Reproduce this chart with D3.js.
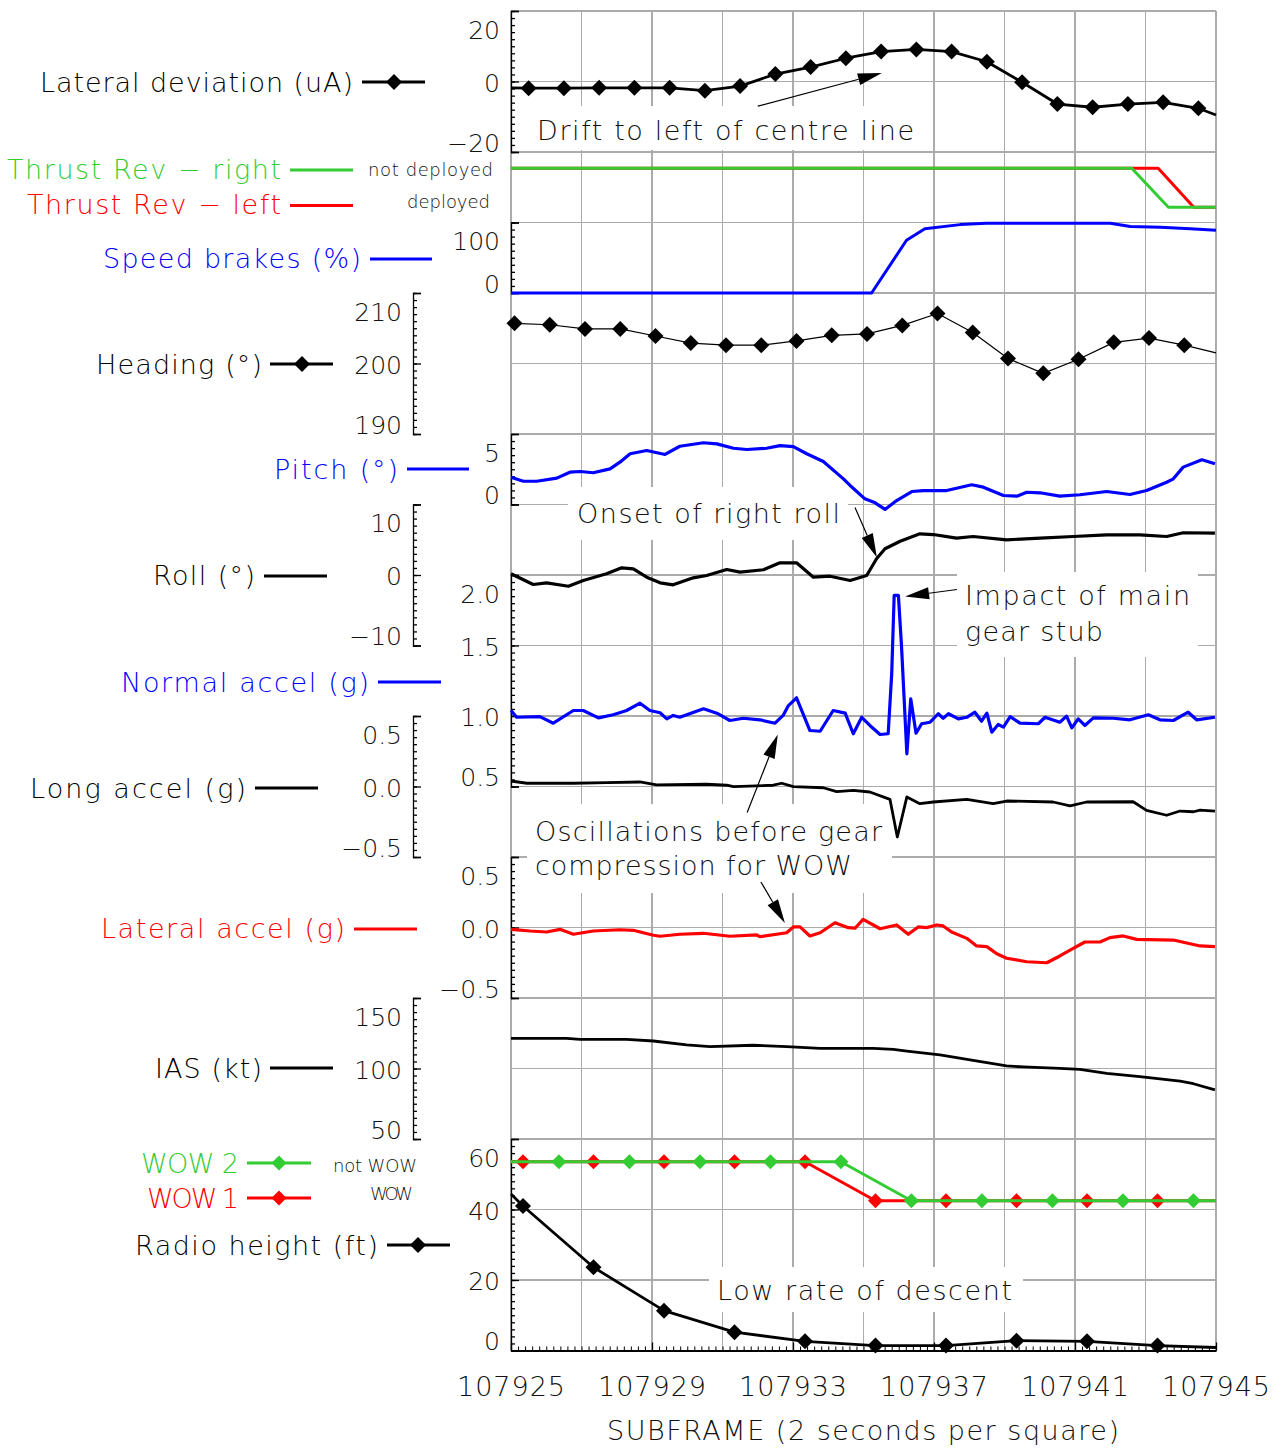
<!DOCTYPE html>
<html><head><meta charset="utf-8">
<script src="https://cdn.jsdelivr.net/npm/d3@7"></script>
<style>
body{margin:0;background:#fff}
text{font-family:"DejaVu Sans","Liberation Sans",sans-serif;font-weight:200;fill:#111}
</style></head>
<body><svg id="c" width="1285" height="1450"></svg>
<script>
// ---------------- DATA ----------------
const SF0 = 107925, SF1 = 107945;
const xTickLabels = [107925, 107929, 107933, 107937, 107941, 107945];

// Lateral deviation (uA): markers once per subframe
const latDevMarks = [[107925.5,-1.9],[107926.5,-1.9],[107927.5,-1.8],[107928.5,-1.8],[107929.5,-1.8],[107930.5,-2.6],[107931.5,-1.3],[107932.5,2.1],[107933.5,4.1],[107934.5,6.6],[107935.5,8.5],[107936.5,9.1],[107937.5,8.5],[107938.5,5.6],[107939.5,-0.2],[107940.5,-6.4],[107941.5,-7.3],[107942.5,-6.4],[107943.5,-5.9],[107944.5,-7.6]];
const latDevEnds = [[107925,-1.8],[107945,-9.5]];

// Thrust reversers: 1 = not deployed, 0 = deployed
const thrustRight = [[107925,1],[107942.61,1],[107943.65,0],[107945,0]];
const thrustLeft  = [[107925,1],[107943.36,1],[107944.37,0],[107945,0]];

// Speed brakes (%)
const speedBrakes = [[107925,0],[107935.23,0],[107936.22,74.8],[107936.74,91.0],[107937.74,97.0],[107938.49,99.0],[107942.0,99.0],[107942.57,94.2],[107943.42,93.2],[107944.27,91.0],[107945,89.0]];

// Heading (deg)
const headingMarks = [[107925.1,205.7],[107926.1,205.5],[107927.1,204.9],[107928.1,204.9],[107929.1,203.9],[107930.1,202.9],[107931.1,202.6],[107932.1,202.6],[107933.1,203.2],[107934.1,204.0],[107935.1,204.2],[107936.1,205.4],[107937.1,207.1],[107938.1,204.4],[107939.1,200.7],[107940.1,198.6],[107941.1,200.6],[107942.1,203.0],[107943.1,203.6],[107944.1,202.6]];
const headingEnd = [107945,201.5];

// Pitch (deg): [seconds after SF0, value]
const pitch = [[0,1.94],[0.35,1.65],[0.73,1.65],[1.30,1.87],[1.67,2.29],[1.96,2.34],[2.33,2.25],[2.81,2.53],[3.09,3.00],[3.38,3.60],[3.85,3.83],[4.37,3.55],[4.79,4.13],[5.46,4.38],[5.84,4.30],[6.31,3.99],[6.69,3.90],[7.25,3.99],[7.63,4.18],[8.01,4.11],[8.39,3.60],[8.86,3.05],[9.43,1.82],[9.62,1.35],[10.04,0.40],[10.33,0.12],[10.61,-0.35],[10.94,0.28],[11.37,0.92],[11.70,0.99],[12.36,0.99],[13.07,1.40],[13.40,1.23],[13.97,0.64],[14.35,0.59],[14.63,0.87],[15.01,0.83],[15.57,0.59],[16.14,0.69],[16.90,0.92],[17.56,0.71],[18.03,0.99],[18.60,1.58],[18.79,1.82],[19.07,2.65],[19.60,3.17],[19.97,2.89]];

// Roll (deg)
const roll = [[0,0.17],[0.63,-1.35],[1.01,-1.11],[1.63,-1.59],[2.05,-0.78],[2.71,0.17],[3.14,1.02],[3.47,0.88],[3.85,-0.31],[4.23,-1.11],[4.60,-1.39],[5.17,-0.40],[5.55,-0.07],[6.12,0.78],[6.50,0.40],[7.16,0.74],[7.63,1.73],[8.10,1.73],[8.58,-0.31],[9.05,-0.17],[9.62,-0.78],[10.09,-0.07],[10.37,2.30],[10.61,3.72],[11.04,4.79],[11.60,5.84],[11.98,5.74],[12.64,5.22],[13.11,5.46],[14.06,4.99],[15.01,5.22],[15.95,5.46],[16.90,5.70],[17.84,5.70],[18.60,5.46],[19.07,5.99],[19.97,5.93]];

// Normal accel (g)
const normalAccel = [[0,1.039],[0.16,0.991],[0.82,0.996],[1.20,0.949],[1.77,1.039],[2.05,1.039],[2.48,0.987],[2.90,1.009],[3.28,1.039],[3.66,1.091],[3.94,1.039],[4.23,1.023],[4.42,0.980],[4.60,1.004],[4.79,0.991],[5.46,1.051],[5.84,1.020],[6.21,0.968],[6.59,0.984],[7.06,0.973],[7.49,0.949],[7.72,1.004],[7.87,1.074],[8.10,1.129],[8.48,0.897],[8.77,0.892],[9.14,1.039],[9.48,1.020],[9.71,0.874],[9.95,0.991],[10.18,0.933],[10.47,0.869],[10.70,0.874],[10.80,1.299],[10.87,1.855],[10.99,1.855],[11.08,1.488],[11.23,0.732],[11.34,1.122],[11.49,0.878],[11.65,0.945],[11.89,0.956],[12.12,1.016],[12.26,0.984],[12.41,1.016],[12.69,0.980],[12.93,0.991],[13.16,1.027],[13.35,0.963],[13.50,1.020],[13.64,0.885],[13.82,0.940],[13.97,0.921],[14.16,0.996],[14.44,0.949],[14.96,0.945],[15.15,0.991],[15.57,0.956],[15.76,0.999],[15.91,0.916],[16.09,0.980],[16.28,0.933],[16.52,0.987],[17.09,0.984],[17.56,0.973],[18.08,1.009],[18.41,0.973],[18.79,0.968],[19.21,1.027],[19.45,0.973],[19.97,0.991]];

// Longitudinal accel (g)
const longAccel = [[0,0.039],[0.45,0.023],[1.77,0.023],[2.71,0.027],[3.66,0.032],[4.13,0.011],[5.55,0.016],[6.12,0.009],[6.31,-0.001],[7.44,0.009],[7.68,0.023],[8.01,-0.001],[8.86,-0.009],[9.24,-0.037],[9.71,-0.027],[10.18,-0.039],[10.75,-0.091],[10.96,-0.358],[11.23,-0.074],[11.60,-0.122],[11.98,-0.110],[12.93,-0.091],[13.68,-0.122],[14.06,-0.103],[15.38,-0.110],[15.86,-0.138],[16.33,-0.110],[17.65,-0.108],[18.03,-0.169],[18.60,-0.204],[18.98,-0.174],[19.36,-0.179],[19.55,-0.167],[19.97,-0.174]];

// Lateral accel (g)
const latAccel = [[0,-0.013],[0.54,-0.025],[1.01,-0.032],[1.39,-0.013],[1.77,-0.048],[2.33,-0.025],[3.09,-0.016],[3.47,-0.020],[4.04,-0.055],[4.23,-0.062],[4.79,-0.048],[5.46,-0.041],[6.21,-0.062],[6.97,-0.053],[7.06,-0.065],[7.82,-0.037],[8.01,0.004],[8.20,0.004],[8.48,-0.060],[8.77,-0.037],[9.19,0.034],[9.57,-0.001],[9.76,-0.005],[9.99,0.058],[10.47,-0.009],[10.94,0.018],[11.27,-0.048],[11.55,0.004],[11.79,-0.001],[12.08,0.018],[12.26,0.011],[12.50,-0.032],[12.93,-0.077],[13.21,-0.131],[13.50,-0.136],[13.78,-0.186],[14.06,-0.218],[14.63,-0.243],[15.20,-0.250],[15.57,-0.202],[15.95,-0.148],[16.28,-0.103],[16.71,-0.103],[16.99,-0.072],[17.37,-0.060],[17.75,-0.084],[18.79,-0.089],[19.55,-0.131],[19.97,-0.136]];

// IAS (kt)
const ias = [[0,121.4],[1.58,121.4],[1.96,120.7],[3.28,120.7],[4.04,119.5],[4.98,116.7],[5.65,115.5],[6.87,116.5],[7.82,115.5],[8.77,114.3],[10.28,114.3],[10.85,113.6],[11.23,112.4],[12.17,109.6],[13.11,105.8],[14.06,101.8],[14.53,101.1],[15.57,100.1],[16.14,99.4],[16.90,96.6],[17.84,94.2],[18.98,91.1],[19.36,89.2],[19.97,84.8]];

// Radio height (ft)
const radioMarks = [[107925.34,41.0],[107927.34,23.6],[107929.34,11.3],[107931.34,5.2],[107933.34,2.6],[107935.34,1.4],[107937.34,1.4],[107939.34,2.8],[107941.34,2.6],[107943.34,1.4]];
const radioEnds = [[107925,44.4],[107945,0.85]];

// Weight on wheels: 1 = not WOW, 0 = WOW
const wow1Marks = [[107925.34,1],[107927.34,1],[107929.34,1],[107931.34,1],[107933.34,1],[107935.34,0],[107937.34,0],[107939.34,0],[107941.34,0],[107943.34,0]];
const wow2Marks = [[107926.36,1],[107928.36,1],[107930.36,1],[107932.36,1],[107934.36,1],[107936.36,0],[107938.36,0],[107940.36,0],[107942.36,0],[107944.36,0]];
const wowEnds = [[107925,1],[107945,0]];

// ---------------- LAYOUT ----------------
const GREEN = "#33cc33", RED = "#ff0000", BLUE = "#0000ff", BLACK = "#000";
const L = {left:511, right:1216, top:11, sq:70.5, rows:19};
const rowY = j => L.top + j*L.sq;
const svg = d3.select("#c");
const x = d3.scaleLinear().domain([SF0, SF1]).range([L.left, L.right]);

const panels = {
  latDev:  {d:[-20,20],   r:[2,0],  ax:511, ticks:[-20,0,20],          minor:2,    fmt:"d"},
  speed:   {d:[0,100],    r:[4,3],  ax:511, ticks:[0,100],             minor:10,   fmt:"d"},
  heading: {d:[190,210],  r:[6,4],  ax:413, ticks:[190,200,210],       minor:1,    fmt:"d"},
  pitch:   {d:[0,5],      r:[7,6],  ax:511, ticks:[0,5],               minor:0.5,  fmt:"d"},
  roll:    {d:[-10,10],   r:[9,7],  ax:413, ticks:[-10,0,10],          minor:1,    fmt:"d"},
  nacc:    {d:[0.5,2.0],  r:[11,8], ax:511, ticks:[0.5,1.0,1.5,2.0],   minor:0.05, fmt:".1f"},
  lacc:    {d:[-0.5,0.5], r:[12,10],ax:413, ticks:[-0.5,0,0.5],        minor:0.05, fmt:".1f"},
  latacc:  {d:[-0.5,0.5], r:[14,12],ax:511, ticks:[-0.5,0,0.5],        minor:0.05, fmt:".1f"},
  ias:     {d:[50,150],   r:[16,14],ax:413, ticks:[50,100,150],        minor:5,    fmt:"d"},
  rh:      {d:[0,60],     r:[19,16],ax:511, ticks:[0,20,40,60],        minor:2,    fmt:"d"}
};
for (const k in panels) {
  const p = panels[k];
  p.y = d3.scaleLinear().domain(p.d).range([rowY(p.r[0]), rowY(p.r[1])]);
}
const yThrust = d3.scaleLinear().domain([0,1]).range([rowY(2)+55.3, rowY(2)+16.3]);
const yWow = d3.scaleLinear().domain([0,1]).range([rowY(16)+61.7, rowY(16)+22.7]);

// ---------------- GRID ----------------
const grid = svg.append("g").attr("stroke","#ababab").attr("stroke-width",1.2).attr("shape-rendering","crispEdges");
grid.selectAll("line.v").data(d3.range(SF0, SF1+1, 2)).join("line")
  .attr("x1",d=>x(d)).attr("x2",d=>x(d)).attr("y1",rowY(0)).attr("y2",rowY(L.rows));
grid.selectAll("line.h").data(d3.range(0, L.rows+1)).join("line")
  .attr("x1",L.left).attr("x2",L.right).attr("y1",d=>rowY(d)).attr("y2",d=>rowY(d));

// ---------------- ANNOTATION BOXES ----------------
const notes = [
  {lines:["Drift to left of centre line"], x:537, y:[130], w:[377], box:[527,106,924,150]},
  {lines:["Onset of right roll"], x:577, y:[513], w:[263], box:[568,487,848,540]},
  {lines:["Impact of main","gear stub"], x:965, y:[595,631], w:[225,138], box:[957,572,1198,657]},
  {lines:["Oscillations before gear","compression for WOW"], x:535, y:[831,865], w:[347,317], box:[527,804,892,893]},
  {lines:["Low rate of descent"], x:717, y:[1290], w:[295], box:[709,1267,1023,1312]}
];
svg.append("g").selectAll("rect").data(notes).join("rect")
  .attr("x",d=>d.box[0]).attr("y",d=>d.box[1])
  .attr("width",d=>d.box[2]-d.box[0]).attr("height",d=>d.box[3]-d.box[1])
  .attr("fill","#fff");

// ---------------- AXES ----------------
function labelShift(p, v){
  if (v === p.d[1]) return 19;
  if (v === p.d[0]) return -9;
  return 1.5;
}
for (const k in panels) {
  const p = panels[k];
  const minorVals = d3.range(p.d[0], p.d[1] + p.minor/2, p.minor);
  const g = svg.append("g").attr("transform",`translate(${p.ax},0)`);
  g.append("g").call(d3.axisRight(p.y).tickValues(minorVals).tickSize(4).tickSizeOuter(8).tickFormat(""))
    .call(s=>s.selectAll("path,line").attr("stroke","#000").attr("stroke-width",1.3));
  g.append("g").call(d3.axisRight(p.y).tickValues(p.ticks).tickSize(8).tickSizeOuter(0).tickFormat(""))
    .call(s=>s.select(".domain").remove())
    .call(s=>s.selectAll("line").attr("stroke","#000").attr("stroke-width",1.3));
  const lab = g.append("g").call(d3.axisLeft(p.y).tickValues(p.ticks).tickSize(0).tickPadding(11).tickFormat(d3.format(p.fmt)));
  lab.select(".domain").remove();
  lab.selectAll("text").attr("font-size",25).attr("font-family",null)
    .attr("transform",v=>`translate(0,${labelShift(p,v)})`);
}
// x axis
const xa = svg.append("g").attr("transform",`translate(0,${rowY(L.rows)})`);
xa.append("g").call(d3.axisTop(x).tickValues(d3.range(SF0, SF1+0.01, 0.2)).tickSize(4).tickSizeOuter(0).tickFormat(""))
  .call(s=>s.selectAll("line").attr("stroke","#000").attr("stroke-width",1))
  .call(s=>s.select(".domain").attr("stroke","#000").attr("stroke-width",2.2));
xa.append("g").call(d3.axisTop(x).tickValues(xTickLabels).tickSize(8).tickSizeOuter(0).tickFormat(""))
  .call(s=>s.select(".domain").remove())
  .call(s=>s.selectAll("line").attr("stroke","#000").attr("stroke-width",1.3));
const xl = xa.append("g").call(d3.axisBottom(x).tickValues(xTickLabels).tickSize(0).tickPadding(26).tickFormat(d3.format("d")));
xl.select(".domain").remove();
xl.selectAll("text").attr("font-size",27).attr("font-family",null).attr("letter-spacing",1);
svg.append("text").attr("x",607).attr("y",1430).attr("dy","0.36em").attr("font-size",27)
  .attr("textLength",512).attr("lengthAdjust","spacing").text("SUBFRAME (2 seconds per square)");

// ---------------- SERIES ----------------
const diamond = r => `M0,${-r}L${r},0L0,${r}L${-r},0Z`;
function drawLine(pts, yS, color, w){
  svg.append("path").datum(pts)
    .attr("d", d3.line().x(d=>x(d[0])).y(d=>yS(d[1])))
    .attr("fill","none").attr("stroke",color).attr("stroke-width",w)
    .attr("stroke-linejoin","round");
}
function drawMarks(pts, yS, color, r){
  svg.append("g").selectAll("path").data(pts).join("path")
    .attr("transform",d=>`translate(${x(d[0])},${yS(d[1])})`)
    .attr("d",diamond(r)).attr("fill",color);
}
const rel = arr => arr.map(d=>[SF0 + d[0], d[1]]);

// Lateral deviation
drawLine([latDevEnds[0], ...latDevMarks, latDevEnds[1]], panels.latDev.y, BLACK, 2.8);
drawMarks(latDevMarks, panels.latDev.y, BLACK, 8);
// Thrust reversers
drawLine(thrustLeft, yThrust, RED, 3);
drawLine(thrustRight, yThrust, GREEN, 3);
// Speed brakes
drawLine(speedBrakes, panels.speed.y, BLUE, 3);
// Heading
drawLine([...headingMarks, headingEnd], panels.heading.y, BLACK, 1.2);
drawMarks(headingMarks, panels.heading.y, BLACK, 8);
// Pitch
drawLine(rel(pitch), panels.pitch.y, BLUE, 3.2);
// Roll
drawLine(rel(roll), panels.roll.y, BLACK, 3.2);
// Normal accel
drawLine(rel(normalAccel), panels.nacc.y, BLUE, 3.2);
// Long accel
drawLine(rel(longAccel), panels.lacc.y, BLACK, 2.8);
// Lateral accel
drawLine(rel(latAccel), panels.latacc.y, RED, 3.2);
// IAS
drawLine(rel(ias), panels.ias.y, BLACK, 2.8);
// WOW
drawLine([wowEnds[0], ...wow1Marks, wowEnds[1]], yWow, RED, 3);
drawMarks(wow1Marks, yWow, RED, 7.5);
drawLine([wowEnds[0], ...wow2Marks, wowEnds[1]], yWow, GREEN, 3);
drawMarks(wow2Marks, yWow, GREEN, 7.5);
// Radio height
drawLine([radioEnds[0], ...radioMarks, radioEnds[1]], panels.rh.y, BLACK, 2.8);
drawMarks(radioMarks, panels.rh.y, BLACK, 8);

// ---------------- ANNOTATION TEXT & ARROWS ----------------
const ann = svg.append("g");
notes.forEach(n=>{
  n.lines.forEach((t,i)=>{
    ann.append("text").attr("x",n.x).attr("y",n.y[i]).attr("dy","0.36em").attr("font-size",27)
      .attr("textLength",n.w[i]).attr("lengthAdjust","spacing").text(t);
  });
});
const arrows = [
  {p:"latDev", from:[107932.0,-7.0], to:[107935.52,2.4]},
  {p:"roll",   from:[107934.76,9.57], to:[107935.38,2.48]},
  {p:"nacc",   from:[107937.65,1.897], to:[107936.18,1.848]},
  {p:"nacc",   from:[107931.70,0.316], to:[107932.57,0.869]},
  {p:"latacc", from:[107932.09,0.323], to:[107932.77,0.032]}
];
arrows.forEach(a=>{
  const yS = panels[a.p].y;
  const x1=x(a.from[0]), y1=yS(a.from[1]), x2=x(a.to[0]), y2=yS(a.to[1]);
  const ang = Math.atan2(y2-y1, x2-x1);
  const len = 24, hw = 6;
  const bx = x2 - len*Math.cos(ang), by = y2 - len*Math.sin(ang);
  ann.append("line").attr("x1",x1).attr("y1",y1).attr("x2",bx).attr("y2",by)
    .attr("stroke","#000").attr("stroke-width",1.2);
  ann.append("path").attr("d",`M${x2},${y2}L${bx - hw*Math.sin(ang)},${by + hw*Math.cos(ang)}L${bx + hw*Math.sin(ang)},${by - hw*Math.cos(ang)}Z`)
    .attr("fill","#000");
});

// ---------------- LEFT LEGEND ----------------
const legend = [
  {t:"Lateral deviation (uA)", x0:40, x1:353, y:82, c:BLACK, l:[362,425], ly:82, m:394},
  {t:"Thrust Rev \u2212 right", x0:7, x1:281, y:169, c:GREEN, l:[290,353], ly:170},
  {t:"Thrust Rev \u2212 left", x0:27, x1:281, y:204, c:RED, l:[290,353], ly:205.5},
  {t:"Speed brakes (%)", x0:103, x1:361, y:258, c:BLUE, l:[370,432], ly:259},
  {t:"Heading (\u00b0)", x0:96, x1:262, y:364, c:BLACK, l:[270,333], ly:364, m:302},
  {t:"Pitch (\u00b0)", x0:274, x1:398, y:469, c:BLUE, l:[407,469], ly:469},
  {t:"Roll (\u00b0)", x0:153, x1:255, y:575, c:BLACK, l:[264,327], ly:576},
  {t:"Normal accel (g)", x0:121, x1:369, y:682, c:BLUE, l:[378,441], ly:682},
  {t:"Long accel (g)", x0:30, x1:246, y:788, c:BLACK, l:[255,318], ly:788},
  {t:"Lateral accel (g)", x0:101, x1:345, y:928, c:RED, l:[354,417], ly:929},
  {t:"IAS (kt)", x0:155, x1:262, y:1068, c:BLACK, l:[270,333], ly:1068},
  {t:"WOW 2", x0:141, x1:239, y:1163, c:GREEN, l:[247,311], ly:1163, m:279, mr:7.5},
  {t:"WOW 1", x0:147, x1:239, y:1198, c:RED, l:[247,311], ly:1198, m:279, mr:7.5},
  {t:"Radio height (ft)", x0:135, x1:378, y:1245, c:BLACK, l:[387,450], ly:1245, m:418}
];
const lg = svg.append("g");
legend.forEach(d=>{
  lg.append("text").attr("x",d.x0).attr("y",d.y).attr("dy","0.36em").attr("font-size",27)
    .attr("textLength",d.x1-d.x0).attr("lengthAdjust","spacing").style("fill",d.c).text(d.t);
  lg.append("line").attr("x1",d.l[0]).attr("x2",d.l[1]).attr("y1",d.ly).attr("y2",d.ly)
    .attr("stroke",d.c).attr("stroke-width",2.8);
  if (d.m) lg.append("path").attr("transform",`translate(${d.m},${d.ly})`).attr("d",diamond(d.mr||8)).attr("fill",d.c);
});
// state labels
const states = [
  {t:"not deployed", x1:493, y:170, w:125},
  {t:"deployed", x1:490, y:202, w:83},
  {t:"not WOW", x1:417, y:1166, w:84},
  {t:"WOW", x1:413, y:1194, w:43}
];
states.forEach(s=>{
  lg.append("text").attr("x",s.x1 - s.w).attr("y",s.y).attr("dy","0.36em").attr("font-size",18)
    .attr("textLength",s.w).attr("lengthAdjust","spacing").text(s.t);
});
</script></body></html>
